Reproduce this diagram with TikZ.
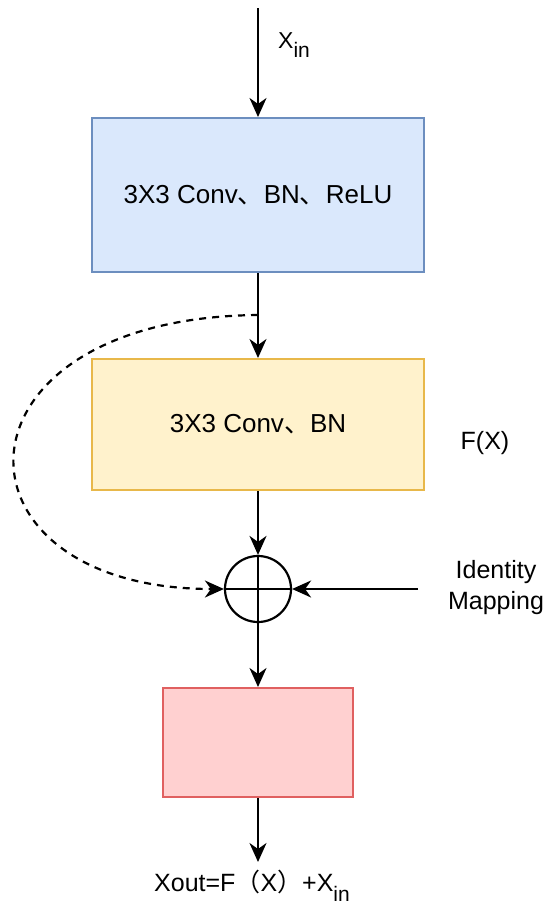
\documentclass[tikz,border=0pt]{standalone}
\usepackage{fontspec}
\setmainfont{Liberation Sans}
\newfontfamily\cjk{Noto Sans CJK SC}
\usepackage{xcolor}
\usepackage{tikz}
\usetikzlibrary{arrows.meta,positioning,calc}

\definecolor{blueF}{HTML}{DAE8FC}
\definecolor{blueD}{HTML}{6C8EBF}
\definecolor{yellowF}{HTML}{FFF2CC}
\definecolor{yellowD}{HTML}{E8B84A}
\definecolor{pinkF}{HTML}{FFD0D0}
\definecolor{pinkD}{HTML}{E06060}

\newcommand{\dun}{{\cjk 、}}
\newcommand{\subin}{\raisebox{-0.4em}{\fontsize{21}{21}\selectfont in}}

\begin{document}
\begin{tikzpicture}[x=1pt,y=-1pt,
    layer/.style={draw,line width=2pt,minimum width=332pt,inner sep=0pt,
      font=\fontsize{26}{30}\selectfont},
    flow/.style={line width=2.2pt,-{Stealth[length=19pt,width=17pt,inset=6pt]}},
    lbl/.style={font=\fontsize{25}{29}\selectfont,inner sep=0pt}]
      \useasboundingbox (0,0) rectangle (550,910);
      % blocks
      \coordinate (in) at (258,8);
      \node[layer,fill=blueF,draw=blueD,minimum height=154pt] (conv1) at (258,195)
        {3X3 Conv\dun BN\dun ReLU};
      \node[layer,fill=yellowF,draw=yellowD,minimum height=131pt] (conv2) at (258,424.5)
        {3X3 Conv\dun BN};
      \node[draw,circle,line width=2.2pt,minimum size=66pt,inner sep=0pt] (sum) at (258,589) {};
      \draw[line width=2.2pt] (sum.north) -- (sum.south) (sum.west) -- (sum.east);
      \node[layer,fill=pinkF,draw=pinkD,minimum width=190pt,minimum height=109pt] (res) at (258,742.5) {};
      \coordinate (out) at (258,862);
      \coordinate (split) at (258,315);
      \coordinate (idin) at (418,589);
      % labels
      \node[lbl,font=\fontsize{23}{27}\selectfont] (xin) at (294,45) {X\subin};
      \node[lbl] (fx) at (485,443) {F(X)};
      \node[lbl,align=center,font=\fontsize{25}{31}\selectfont] (idmap) at (496,588) {Identity\\Mapping};
      \node[lbl,font=\fontsize{25}{29}\selectfont] (xout) at (252,886) {Xout=F{\cjk （}X{\cjk ）}+X\subin};
      % connectors
      \draw[flow] (in) -- (conv1);
      \draw[flow] (conv1) -- (conv2);
      \draw[flow] (conv2) -- (sum);
      \draw[flow] (sum) -- (res);
      \draw[flow] (res) -- (out);
      \draw[flow] (idin) -- (sum);
      \draw[flow,dashed,dash pattern=on 7pt off 6pt] (split) .. controls (-60,318) and (-60,589) .. (sum.west);
    \end{tikzpicture}
\end{document}
